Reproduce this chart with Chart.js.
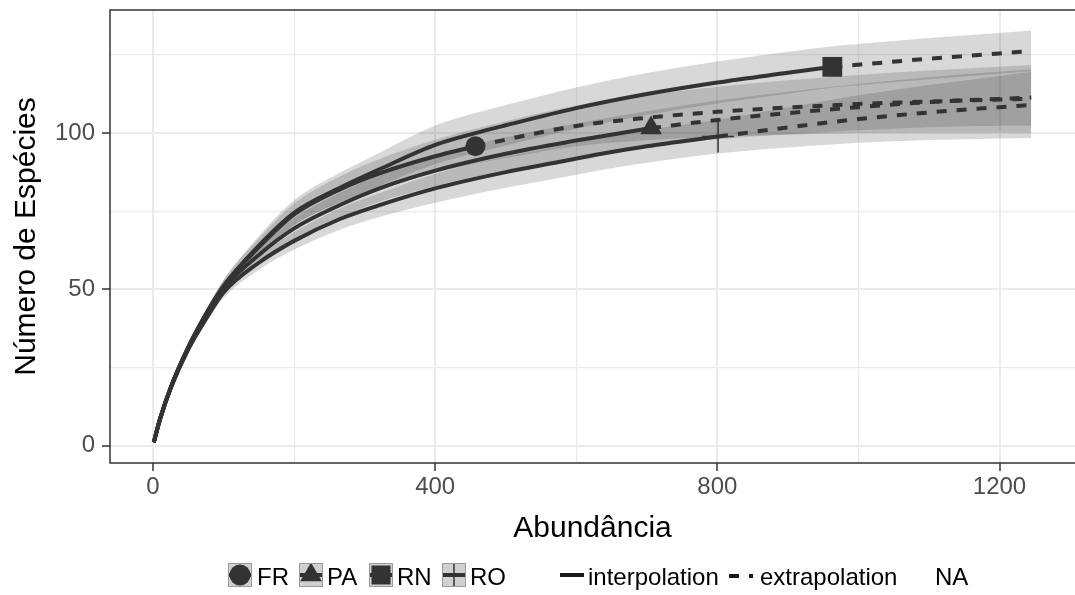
<!DOCTYPE html>
<html>
<head>
<meta charset="utf-8">
<script src="https://cdn.jsdelivr.net/npm/chart.js@4.4.1/dist/chart.umd.min.js"></script>
<style>
html,body{margin:0;padding:0;background:#fff;overflow:hidden;width:1075px;height:595px;}
#wrap{width:1075px;height:595px;position:relative;overflow:hidden;}
#c{display:block;}
</style>
</head>
<body>
<div id="wrap"><canvas id="c" width="1075" height="595"></canvas></div>
<script>
// ---------- data ----------
const sites = ["FR", "PA", "RN", "RO"];
const observedN = [457, 706, 963, 801];

const nFR  = [1, 10, 25, 50, 75, 100, 150, 200, 265, 322, 400, 457, 500, 600, 700, 800, 900, 1000, 1100, 1245];
const sFR  = [1, 8.5, 18.5, 31.5, 42, 51, 63.5, 74, 82, 87.2, 92.6, 95.8, 97.9, 102.3, 104.9, 106.8, 108.2, 109.3, 110.1, 111];
const loFR = [1, 8.2, 17.9, 30.5, 40.5, 49, 60.7, 70.5, 77.9, 82.6, 87.3, 90.2, 92, 95.8, 97.7, 98.8, 99.5, 100, 100.2, 100.2];
const hiFR = [1, 8.8, 19.1, 32.5, 43.5, 53, 66.3, 77.5, 86.1, 91.8, 97.9, 101.4, 103.8, 108.8, 112.1, 114.8, 116.9, 118.6, 120, 121.8];

const nPA  = [1, 10, 25, 50, 75, 100, 150, 200, 265, 322, 400, 500, 600, 706, 800, 900, 1000, 1100, 1245];
const sPA  = [1, 8.5, 18.5, 31.2, 41.5, 50.3, 61, 69.5, 77, 82.4, 88, 93.4, 97.6, 101.6, 104.2, 106.4, 108.3, 109.9, 111.4];
const loPA = [1, 8.2, 17.9, 30.2, 40, 48.3, 58.3, 66.2, 73.1, 78.1, 83, 88.1, 92.1, 96, 98, 99.6, 100.9, 101.9, 102.4];
const hiPA = [1, 8.8, 19.1, 32.2, 43, 52.3, 63.7, 72.8, 80.9, 86.7, 93, 98.7, 103.1, 107.2, 110.4, 113.2, 115.7, 117.9, 120.4];

const nRN  = [1, 10, 25, 50, 75, 100, 150, 200, 265, 322, 400, 457, 500, 600, 700, 800, 900, 963, 1000, 1100, 1200, 1245];
const sRN  = [1, 8.5, 18.5, 31.5, 42, 51, 64, 74.5, 82.5, 88.5, 96.2, 100, 102.5, 108, 112.5, 116.2, 119.3, 121.2, 121.9, 123.8, 125.5, 126.3];
const loRN = [1, 8.2, 17.9, 30.5, 40.5, 49, 61, 70.5, 77.7, 83.2, 90, 93.6, 96, 101.4, 105.8, 109.5, 112.6, 114.6, 115.3, 117.2, 119, 119.8];
const hiRN = [1, 8.8, 19.1, 32.5, 43.5, 53, 67, 78.5, 87.3, 93.8, 102.4, 106.4, 109, 114.6, 119.2, 122.9, 126, 127.8, 128.5, 130.4, 132, 132.8];

const nRO  = [1, 10, 25, 50, 75, 100, 150, 200, 265, 322, 400, 500, 577, 634, 700, 801, 900, 1000, 1100, 1200, 1245];
const sRO  = [1, 8.5, 18.3, 30.8, 40.5, 49, 58.5, 65.5, 72.5, 77, 82.3, 87.5, 90.8, 93.3, 95.8, 98.9, 101.8, 104.5, 106.6, 108.3, 109];
const loRO = [1, 8.2, 17.7, 29.8, 39.1, 47.2, 56.2, 62.7, 69.1, 73.2, 77.7, 82.5, 85.7, 88.1, 90.5, 93.5, 95.4, 96.9, 97.8, 98.3, 98.4];
const hiRO = [1, 8.8, 18.9, 31.8, 41.9, 50.8, 60.8, 68.3, 75.9, 80.8, 86.9, 92.5, 95.9, 98.5, 101.1, 104.3, 108.2, 112.1, 115.4, 118.3, 119.6];

const xTicks = [0, 200, 400, 600, 800, 1000, 1200];
const xLabels = [0, 400, 800, 1200];
const yTicks = [0, 25, 50, 75, 100, 125];
const yLabels = [0, 50, 100];

const xTitle = "Abundância";
const yTitle = "Número de Espécies";
const lineLegend = ["interpolation", "extrapolation", "NA"];

// ---------- styling ----------
const FONT = "'Liberation Sans', Arial, Helvetica, sans-serif";
const INK = "#333333";
const RIBBON = "rgba(60,60,60,0.2)";
const DASH = [10, 10];

const series = [
  {name: sites[0], n: nFR, s: sFR, lo: loFR, hi: hiFR, obs: observedN[0], style: "circle",   r: 10},
  {name: sites[1], n: nPA, s: sPA, lo: loPA, hi: hiPA, obs: observedN[1], style: "triangle", r: 12.5},
  {name: sites[2], n: nRN, s: sRN, lo: loRN, hi: hiRN, obs: observedN[2], style: "rect",     r: 14},
  {name: sites[3], n: nRO, s: sRO, lo: loRO, hi: hiRO, obs: observedN[3], style: "cross",    r: 16}
];

const datasets = [];
series.forEach(sr => {
  const pts = arr => sr.n.map((n, i) => ({x: n, y: arr[i]}));
  const loIdx = datasets.length;
  datasets.push({label: sr.name + " lo", data: pts(sr.lo), showLine: true, borderWidth: 1,
    borderColor: "rgba(0,0,0,0)", pointRadius: 0, fill: false, order: 10,
    cubicInterpolationMode: "monotone"});
  datasets.push({label: sr.name + " hi", data: pts(sr.hi), showLine: true, borderWidth: 1,
    borderColor: "rgba(0,0,0,0)", pointRadius: 0, fill: loIdx, backgroundColor: RIBBON, order: 10,
    cubicInterpolationMode: "monotone"});
});
series.forEach(sr => {
  const all = sr.n.map((n, i) => ({x: n, y: sr.s[i]}));
  datasets.push({label: sr.name + " interpolation", data: all.filter(p => p.x <= sr.obs), showLine: true,
    borderColor: INK, borderWidth: 4, pointRadius: 0, fill: false, order: 5,
    cubicInterpolationMode: "monotone", borderCapStyle: "butt"});
  datasets.push({label: sr.name + " extrapolation", data: all.filter(p => p.x >= sr.obs), showLine: true,
    borderColor: INK, borderWidth: 4, borderDash: DASH, pointRadius: 0, fill: false, order: 5,
    cubicInterpolationMode: "monotone", borderCapStyle: "butt"});
});
series.forEach(sr => {
  const i = sr.n.indexOf(sr.obs);
  datasets.push({label: sr.name, data: [{x: sr.obs, y: sr.s[i]}], showLine: false,
    pointStyle: sr.style, pointRadius: sr.r, pointHoverRadius: sr.r,
    backgroundColor: INK, borderColor: INK, borderWidth: sr.style === "cross" ? 1.5 : 0,
    fill: false, order: 1});
});

function drawKeyShape(ctx, style, cx, cy) {
  ctx.fillStyle = INK; ctx.strokeStyle = INK;
  if (style === "circle") {
    ctx.beginPath(); ctx.arc(cx, cy, 10.5, 0, Math.PI * 2); ctx.fill();
  } else if (style === "triangle") {
    const r = 12.5; ctx.beginPath();
    for (let k = 0; k < 3; k++) {
      const a = k * 2 * Math.PI / 3;
      const px = cx + Math.sin(a) * r, py = cy - Math.cos(a) * r;
      if (k === 0) ctx.moveTo(px, py); else ctx.lineTo(px, py);
    }
    ctx.closePath(); ctx.fill();
  } else if (style === "rect") {
    ctx.fillRect(cx - 9.5, cy - 9.5, 19, 19);
  } else if (style === "cross") {
    ctx.lineWidth = 1.5; ctx.beginPath();
    ctx.moveTo(cx, cy - 16); ctx.lineTo(cx, cy + 16);
    ctx.moveTo(cx - 16, cy); ctx.lineTo(cx + 16, cy); ctx.stroke();
  }
}

const deco = {
  id: "deco",
  afterDraw(chart) {
    const ctx = chart.ctx, a = chart.chartArea;
    ctx.save();
    // panel border (its right edge lies at/after the picture edge)
    ctx.strokeStyle = INK; ctx.lineWidth = 1.5;
    ctx.beginPath();
    ctx.moveTo(a.right + 2, a.top); ctx.lineTo(a.left, a.top);
    ctx.lineTo(a.left, a.bottom); ctx.lineTo(a.right + 2, a.bottom);
    ctx.stroke();

    ctx.fillStyle = "#000";
    ctx.font = "30px " + FONT;
    ctx.textAlign = "center"; ctx.textBaseline = "alphabetic";
    ctx.fillText(xTitle, (a.left + a.right) / 2, 537);
    ctx.save();
    ctx.translate(35, (a.top + a.bottom) / 2);
    ctx.rotate(-Math.PI / 2);
    ctx.fillText(yTitle, 0, 0);
    ctx.restore();

    const boxX = [228, 299, 369, 442];
    const txtX = [257, 327, 397, 470];
    const by = 563, bs = 24, base = 585;
    ctx.font = "24px " + FONT;
    ctx.textAlign = "left";
    series.forEach((sr, i) => {
      ctx.save();
      ctx.fillStyle = "#d0d0d0";
      ctx.fillRect(boxX[i], by, bs, bs);
      ctx.beginPath(); ctx.rect(boxX[i], by, bs, bs); ctx.clip();
      const cx = boxX[i] + bs / 2, cy = by + bs / 2;
      ctx.strokeStyle = INK; ctx.lineWidth = 4;
      ctx.beginPath(); ctx.moveTo(boxX[i], cy); ctx.lineTo(boxX[i] + bs, cy); ctx.stroke();
      drawKeyShape(ctx, sr.style, cx, cy);
      ctx.restore();
      ctx.strokeStyle = "#9a9a9a"; ctx.lineWidth = 1;
      ctx.strokeRect(boxX[i] + 0.5, by + 0.5, bs - 1, bs - 1);
      ctx.fillStyle = "#000";
      ctx.fillText(sr.name, txtX[i], base);
    });

    ctx.strokeStyle = "#1a1a1a"; ctx.lineWidth = 4; ctx.lineCap = "butt";
    ctx.beginPath(); ctx.moveTo(560, 575); ctx.lineTo(584, 575); ctx.stroke();
    ctx.setLineDash(DASH);
    ctx.beginPath(); ctx.moveTo(729, 576); ctx.lineTo(753, 576); ctx.stroke();
    ctx.setLineDash([]);
    ctx.fillStyle = "#000";
    ctx.fillText(lineLegend[0], 588, base);
    ctx.fillText(lineLegend[1], 760, base);
    ctx.fillText(lineLegend[2], 935, base);
    ctx.restore();
  }
};

const isMajorX = v => xLabels.includes(v);
const isMajorY = v => yLabels.includes(v);
const noPad = s => { s.paddingLeft = 0; s.paddingRight = 0; s.paddingTop = 0; s.paddingBottom = 0; };

new Chart(document.getElementById("c"), {
  type: "line",
  data: {datasets},
  options: {
    responsive: false,
    animation: false,
    events: [],
    layout: {autoPadding: false, padding: {top: 10, left: 0, right: 0, bottom: 0}},
    plugins: {legend: {display: false}, tooltip: {enabled: false}, title: {display: false}},
    scales: {
      x: {
        type: "linear", min: -61, max: 1307,
        afterBuildTicks: s => { s.ticks = xTicks.map(v => ({value: v})); },
        afterFit: s => { s.height = 132; noPad(s); },
        ticks: {
          autoSkip: false, maxRotation: 0, padding: 2, color: "#4d4d4d",
          font: {family: FONT, size: 24},
          callback: v => isMajorX(v) ? String(v) : ""
        },
        border: {display: false},
        grid: {
          color: "#ebebeb",
          lineWidth: c => (c.tick && isMajorX(c.tick.value)) ? 2 : 1.2,
          tickColor: c => (c.tick && isMajorX(c.tick.value)) ? INK : "rgba(0,0,0,0)",
          tickLength: 8, tickWidth: 1.5
        }
      },
      y: {
        type: "linear", min: -5.6, max: 139.4,
        afterBuildTicks: s => { s.ticks = yTicks.map(v => ({value: v})); },
        afterFit: s => { s.width = 110; noPad(s); },
        ticks: {
          autoSkip: false, padding: 7, color: "#4d4d4d",
          font: {family: FONT, size: 24},
          callback: v => isMajorY(v) ? String(v) : ""
        },
        border: {display: false},
        grid: {
          color: "#ebebeb",
          lineWidth: c => (c.tick && isMajorY(c.tick.value)) ? 2 : 1.2,
          tickColor: c => (c.tick && isMajorY(c.tick.value)) ? INK : "rgba(0,0,0,0)",
          tickLength: 8, tickWidth: 1.5
        }
      }
    }
  },
  plugins: [deco]
});
</script>
</body>
</html>
